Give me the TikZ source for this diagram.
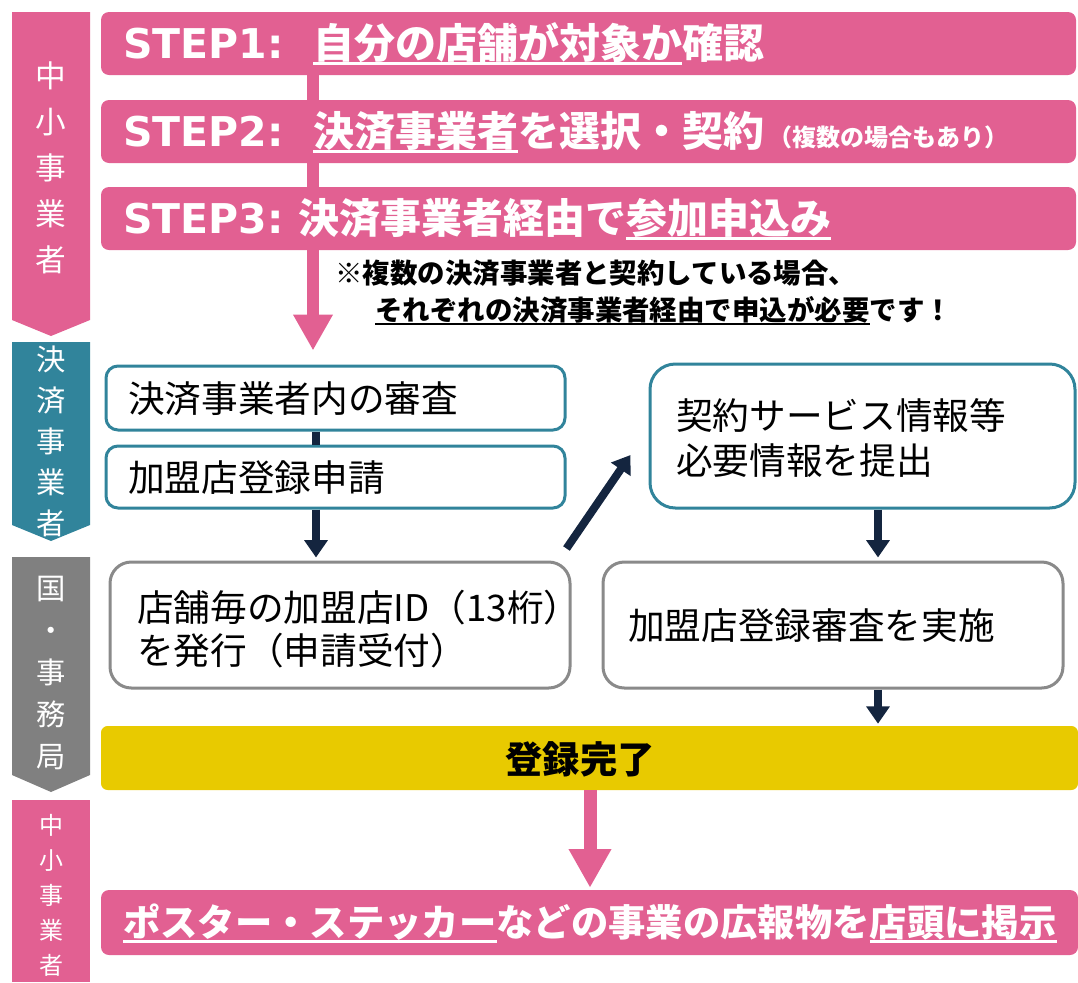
\documentclass[tikz,border=0pt]{standalone}
\usepackage{fontspec}
\setmainfont{Noto Sans CJK JP}
\newfontfamily\latinwide{DejaVu Sans}
\usetikzlibrary{arrows.meta,fit,calc}
\definecolor{pk}{HTML}{E26092}
\definecolor{tl}{HTML}{31849B}
\definecolor{gy}{HTML}{808080}
\definecolor{gb}{HTML}{8A8A8A}
\definecolor{yl}{HTML}{E8CA00}
\definecolor{nv}{HTML}{14253F}
\newcommand\myul[1]{\setbox0=\hbox{#1}\rlap{\rule[-0.17em]{\wd0}{0.075em}}\box0}
\newcommand\fs[2]{\fontsize{#1}{#2}\selectfont}
\tikzset{
 stepbox/.style={fill=pk, rounded corners=6pt, inner sep=0pt},
 tealbox/.style={draw=tl, line width=2.25pt, fill=white, rounded corners=9pt, inner sep=0pt},
 tealbig/.style={tealbox, rounded corners=19pt},
 graybox/.style={draw=gb, line width=2.25pt, fill=white, rounded corners=16pt, inner sep=0pt},
 yelbox/.style={fill=yl, rounded corners=5pt, inner sep=0pt},
 boxtxt/.style={font=\fs{27.5}{33.5}, text=black, anchor=west, inner sep=0pt, align=left},
 steptxt/.style={font=\bfseries\fs{30.75}{36}, text=white, anchor=west, inner sep=0pt},
 notetxt/.style={font=\bfseries\fs{20.6}{24}, text=black, anchor=west, inner sep=0pt},
 navy/.style={draw=nv, line width=6pt},
 navyarr/.style={navy, -{Triangle[width=17pt,length=13pt]}},
 pinkbar/.style={draw=pk, line width=9pt},
 pinkarr/.style={pinkbar, -{Triangle[width=28pt,length=27pt]}},
 bandtxt/.style={text=white, align=center, inner sep=0pt},
}
\begin{document}
\begin{tikzpicture}[x=0.75pt,y=-0.75pt]
\useasboundingbox (0,0) rectangle (1078,982);
% left bands
\fill[pk] (12,12) -- (90,12) -- (90,320) -- (51,336) -- (12,320) -- cycle;
\fill[tl] (12,342) -- (90,342) -- (90,525) -- (51,541) -- (12,525) -- cycle;
\fill[gy] (12,557) -- (90,557) -- (90,775) -- (51,792) -- (12,775) -- cycle;
\fill[pk] (12,800) -- (90,800) -- (90,982) -- (12,982) -- cycle;
\node[bandtxt, font=\fs{23}{34.5}] (b1) at (51,168) {中\\小\\事\\業\\者};
\node[bandtxt, font=\fs{22}{30.8}] (b2) at (51,441) {決\\済\\事\\業\\者};
\node[bandtxt, font=\fs{22}{31.5}] (b3) at (51,673) {国\\・\\事\\務\\局};
\node[bandtxt, font=\fs{18}{26.2}] (b4) at (51,895) {中\\小\\事\\業\\者};
% step boxes
\node[stepbox, fit={(101,12)(1076,75)}] (s1) {};
\node[stepbox, fit={(101,100)(1076,163)}] (s2) {};
\node[stepbox, fit={(101,187)(1076,250)}] (s3) {};
\coordinate (cx) at (313,0);
\draw[pinkbar] (s1.south -| cx) -- (s2.north -| cx);
\draw[pinkbar] (s2.south -| cx) -- (s3.north -| cx);
\node[steptxt] (t1) at (123,44) {\makebox[142.5pt][l]{\latinwide STEP1:}\myul{自分の店舗が対象か}確認};
\node[steptxt] (t2) at (123,132) {\makebox[142.5pt][l]{\latinwide STEP2:}\myul{決済事業者}を選択・契約\hspace{3pt}{\fs{18}{20}（複数の場合もあり）}};
\node[steptxt] (t3) at (123,219) {\makebox[131.25pt][l]{\latinwide STEP3:}決済事業者経由で\myul{参加申込み}};
% note
\node[notetxt] (n1) at (335,273) {※複数の決済事業者と契約している場合、};
\node[notetxt] (n2) at (375,311) {\myul{それぞれの決済事業者経由で申込が必要}です！};
% middle boxes
\node[tealbox, fit={(106,366)(565,430)}] (A) {};
\node[tealbox, fit={(106,446)(565,508)}] (B) {};
\node[tealbig, fit={(650,364)(1075,508)}] (C) {};
\node[graybox, fit={(110,562)(570,688)}] (G1) {};
\node[graybox, fit={(603,562)(1063,688)}] (G2) {};
\node[boxtxt] (At) at (128,399) {決済事業者内の審査};
\node[boxtxt] (Bt) at (128,478) {加盟店登録申請};
\node[boxtxt, font=\fs{27.5}{34}] (Ct) at (676,438) {契約サービス情報等\\必要情報を提出};
\node[boxtxt, font=\fs{27.5}{32.5}] (G1t) at (137,629) {店舗毎の加盟店ID（13桁）\\を発行（申請受付）};
\node[boxtxt] (G2t) at (628,626) {加盟店登録審査を実施};
% yellow and bottom
\node[yelbox, fit={(101,726)(1078,790)}] (Y) {};
\node[font=\bfseries\fs{28}{32}, text=black, inner sep=0pt] (Yt) at (580,759) {登録完了};
\node[stepbox, fit={(101,890)(1078,955)}] (P) {};
\node[font=\bfseries\fs{28}{32}, text=white, anchor=west, inner sep=0pt] (Pt) at (123,923) {\myul{ポスター・ステッカー}などの事業の広報物を\myul{店頭に掲示}};
% connectors
\draw[pinkarr] (s3.south -| cx) -- ($(A.north -| cx)+(0,-14)$);
\coordinate (nx) at (316,0);
\coordinate (rx) at (878,0);
\coordinate (px) at (590,0);
\draw[navy] (A.south -| nx) -- (B.north -| nx);
\draw[navyarr] (B.south -| nx) -- ($(G1.north -| nx)+(0,-3)$);
\draw[navyarr] ($(G1.north east)+(-5,-12)$) -- ($(C.west)+(-18,19)$);
\draw[navyarr] (C.south -| rx) -- ($(G2.north -| rx)+(0,-3)$);
\draw[navyarr] (G2.south -| rx) -- ($(Y.north -| rx)+(0,-2)$);
\draw[draw=pk, line width=9.75pt, -{Triangle[width=30pt,length=29pt]}] (Y.south -| px) -- ($(P.north -| px)+(0,-2)$);
\end{tikzpicture}
\end{document}
